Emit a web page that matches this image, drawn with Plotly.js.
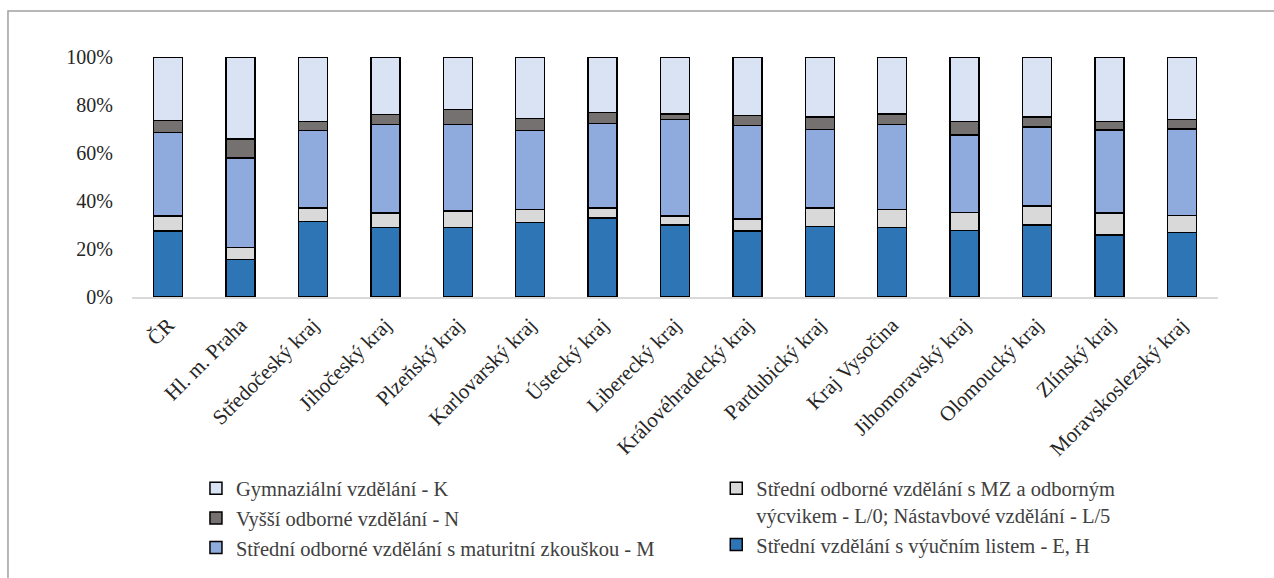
<!DOCTYPE html>
<html>
<head>
<meta charset="utf-8">
<script src="https://cdn.plot.ly/plotly-3.0.1.min.js"></script>
<style>
  html, body { margin: 0; padding: 0; background: #fff; }
  #chart { width: 1274px; height: 578px; }
</style>
</head>
<body>
<div id="chart"></div>
<script>
const regions = ["ČR", "Hl. m. Praha", "Středočeský kraj", "Jihočeský kraj", "Plzeňský kraj",
  "Karlovarský kraj", "Ústecký kraj", "Liberecký kraj", "Královéhradecký kraj", "Pardubický kraj",
  "Kraj Vysočina", "Jihomoravský kraj", "Olomoucký kraj", "Zlínský kraj", "Moravskoslezský kraj"];

const seriesNames = {
  EH: "Střední vzdělání s výučním listem - E, H",
  L: "Střední odborné vzdělání s MZ a odborným<br>výcvikem - L/0; Nástavbové vzdělání - L/5",
  M: "Střední odborné vzdělání s maturitní zkouškou - M",
  N: "Vyšší odborné vzdělání - N",
  K: "Gymnaziální vzdělání - K"
};

// percentages
const valEH = [27.4, 15.7, 31.5, 28.9, 28.9, 31.1, 32.9, 29.9, 27.5, 29.3, 29.0, 27.8, 30.0, 25.8, 26.9];
const valL  = [6.4, 5.0, 5.6, 6.2, 6.9, 5.4, 4.2, 3.9, 4.9, 7.8, 7.4, 7.5, 7.9, 9.2, 7.0];
const valM  = [34.8, 37.2, 32.3, 36.8, 36.0, 32.9, 35.1, 40.2, 39.1, 32.6, 35.5, 32.1, 32.9, 34.6, 36.1];
const valN  = [5.0, 7.9, 3.7, 4.2, 6.4, 5.0, 4.7, 2.3, 4.2, 5.4, 4.4, 5.7, 4.3, 3.5, 4.0];
const valK  = [26.4, 34.2, 26.9, 23.9, 21.8, 25.6, 23.1, 23.7, 24.3, 24.9, 23.7, 26.9, 24.9, 26.9, 26.0];

const yTickVals = [0, 20, 40, 60, 80, 100];
const yTickText = ["0%", "20%", "40%", "60%", "80%", "100%"];

const line = { color: "#000000", width: 1.5 };
function bar(y, name, color, legend, group, rank) {
  return {
    type: "bar", x: regions, y: y, name: name,
    marker: { color: color, line: line },
    legend: legend, legendgroup: group, legendrank: rank, hoverinfo: "skip"
  };
}

const data = [
  bar(valEH, seriesNames.EH, "#2E75B6", "legend2", "g5", 2),
  bar(valL, seriesNames.L, "#D9D9D9", "legend2", "g4", 1),
  bar(valM, seriesNames.M, "#8FAADC", "legend", "g3", 3),
  bar(valN, seriesNames.N, "#767171", "legend", "g2", 2),
  bar(valK, seriesNames.K, "#DAE3F3", "legend", "g1", 1)
];

const legendFont = { family: "Liberation Serif, serif", size: 20.5, color: "#404040" };

const layout = {
  width: 1274, height: 578,
  margin: { l: 132, r: 56, t: 57, b: 281, autoexpand: false },
  paper_bgcolor: "#ffffff", plot_bgcolor: "#ffffff",
  barmode: "stack",
  bargap: 0.6,
  font: { family: "Liberation Serif, serif", size: 20, color: "#262626" },
  xaxis: {
    type: "category",
    tickangle: -45,
    automargin: false,
    showline: true, linecolor: "#d9d9d9", linewidth: 1.5,
    showgrid: false, zeroline: false, ticks: "",
    ticklabelstandoff: 6,
    tickfont: { family: "Liberation Serif, serif", size: 21, color: "#262626" }
  },
  yaxis: {
    range: [0, 100],
    automargin: false,
    tickvals: yTickVals, ticktext: yTickText,
    showgrid: false, zeroline: false, showline: false, ticks: "",
    ticklabelstandoff: 18,
    tickfont: { family: "Liberation Serif, serif", size: 20, color: "#262626" }
  },
  showlegend: true,
  legend: {
    x: 0.0589, y: -0.7145, xanchor: "left", yanchor: "top",
    orientation: "v", traceorder: "grouped", tracegroupgap: 0,
    font: legendFont, bgcolor: "rgba(0,0,0,0)", itemwidth: 30
  },
  legend2: {
    x: 0.538, y: -0.7145, xanchor: "left", yanchor: "top",
    orientation: "v", traceorder: "grouped", tracegroupgap: 0,
    valign: "top",
    font: legendFont, bgcolor: "rgba(0,0,0,0)", itemwidth: 30
  },
  shapes: [{
    type: "rect", xref: "paper", yref: "paper",
    x0: -0.1142, x1: 1.06, y0: 1.1917, y1: -1.25,
    line: { color: "#a0a0a0", width: 1.5 }, fillcolor: "rgba(0,0,0,0)", layer: "below"
  }]
};

Plotly.newPlot("chart", data, layout, { displayModeBar: false, staticPlot: true });
</script>
</body>
</html>
